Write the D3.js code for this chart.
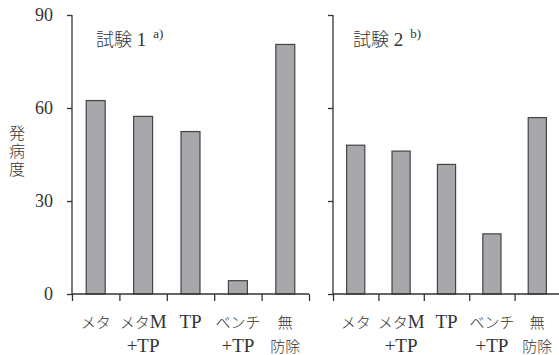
<!DOCTYPE html>
<html><head><meta charset="utf-8">
<script src="https://cdn.jsdelivr.net/npm/d3@7"></script>
<style>
body{margin:0;background:#fff;}
svg{display:block;}
text{fill:#333;}
</style></head>
<body><svg id="c" width="559" height="355"></svg>
<script>
const categories = [["メタ"],["メタM","+TP"],["TP"],["ベンチ","+TP"],["無","防除"]];
const trial1 = [62.4, 57.3, 52.4, 4.3, 80.5];
const trial2 = [48.0, 46.1, 41.8, 19.4, 56.9];
const yTicks = [0, 30, 60, 90];
const titles = [["試験 1","a)"],["試験 2","b)"]];
const yLabel = "発病度";

const svg = d3.select("#c");
const y = d3.scaleLinear().domain([0, 90]).range([294, 15]);
const panels = [
  {x0: 72, x1: 309, vals: trial1, title: titles[0], labels: true, tx: 96},
  {x0: 333, x1: 560, vals: trial2, title: titles[1], labels: false, tx: 353}
];
const stroke = "#333";

function mixed(sel, str, latinSize, cjkSize) {
  const runs = str.match(/[\u3000-\u9fff\uff00-\uffef]+|[^\u3000-\u9fff\uff00-\uffef]+/g) || [];
  runs.forEach(r => {
    const cjk = /[\u3000-\u9fff\uff00-\uffef]/.test(r);
    sel.append("tspan")
      .attr("font-family", cjk ? "Noto Sans CJK JP" : "Liberation Serif")
      .attr("font-size", cjk ? cjkSize : latinSize)
      .attr("font-weight", cjk ? 300 : 400)
      .text(r);
  });
}

panels.forEach(p => {
  const g = svg.append("g");
  const idx = d3.range(categories.length);
  const xb = d3.scaleBand().domain(idx).range([p.x0, p.x1]).paddingInner(0.6).paddingOuter(0.3);
  const xl = d3.scaleLinear().domain([0, categories.length]).range([p.x0, p.x1]);

  g.selectAll("rect").data(p.vals).join("rect")
    .attr("x", (d,i) => xb(i)).attr("width", xb.bandwidth())
    .attr("y", d => y(d)).attr("height", d => y(0) - y(d))
    .attr("fill", "#a7a8ac").attr("stroke", "#444").attr("stroke-width", 1.2);

  const ya = d3.axisLeft(y).tickValues(yTicks).tickSize(5).tickPadding(14)
    .tickFormat(p.labels ? d3.format("d") : "");
  const yg = g.append("g").attr("transform", `translate(${p.x0},0)`).call(ya);
  yg.select(".domain").attr("d", `M0,${y(90)}V${y(0)}`);
  yg.selectAll("line,path").attr("stroke", stroke).attr("stroke-width", 1.3);
  yg.selectAll("text").attr("font-size", 18).attr("fill", "#333").attr("font-family", "Liberation Serif");

  const xa = d3.axisBottom(xl).tickValues(d3.range(categories.length + 1)).tickSize(7).tickFormat("");
  const xg = g.append("g").attr("transform", `translate(0,${y(0)})`).call(xa);
  xg.select(".domain").attr("d", `M${p.x0},0H${p.x1}`);
  xg.selectAll("line,path").attr("stroke", stroke).attr("stroke-width", 1.3);

  categories.forEach((lines, i) => {
    const cx = xb(i) + xb.bandwidth() / 2;
    lines.forEach((ln, j) => {
      const t = g.append("text").attr("x", cx).attr("y", 328 + j * 24)
        .attr("text-anchor", "middle");
      mixed(t, ln, 19, 15);
    });
  });

  const t = g.append("text").attr("x", p.tx).attr("y", 46);
  mixed(t, p.title[0], 19, 18);
  t.append("tspan").attr("font-size", 13).attr("dx", 7).attr("dy", -8)
    .attr("font-family", "Liberation Serif").text(p.title[1]);
});

svg.append("text").attr("x", 17).attr("y", 152)
  .attr("text-anchor", "middle").attr("font-size", 16)
  .style("writing-mode", "vertical-rl").attr("letter-spacing", 2)
  .attr("font-family", "Noto Sans CJK JP").attr("font-weight", 300).text(yLabel);
</script></body></html>
